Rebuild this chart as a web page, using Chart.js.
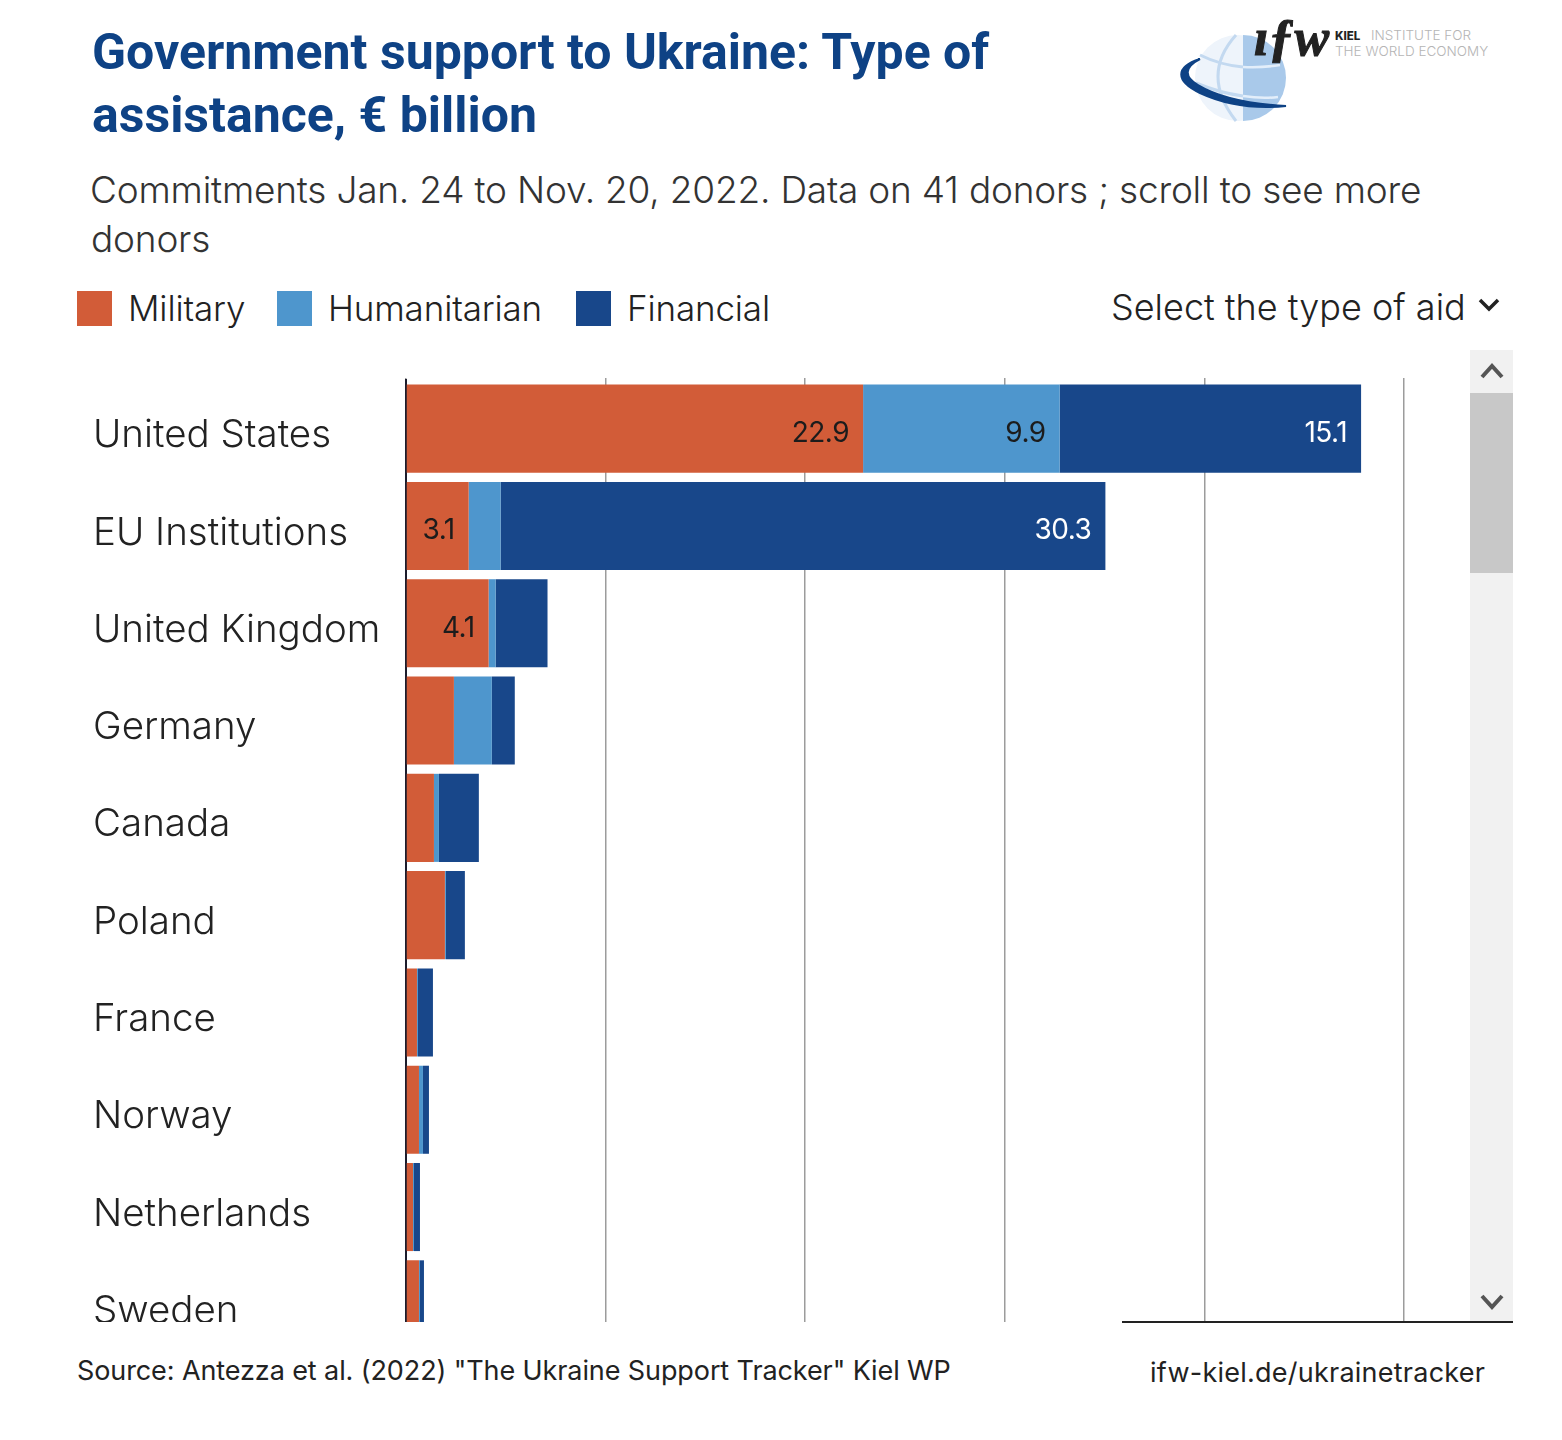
<!DOCTYPE html>
<html>
<head>
<meta charset="utf-8">
<script src="https://cdn.jsdelivr.net/npm/chart.js@4"></script>
<style>
    html, body { margin: 0; padding: 0; background: #fff; }
    #page { position: relative; width: 1562px; height: 1440px; overflow: hidden; font-family: Inter, sans-serif; color: #222; }
    .txt { position: absolute; white-space: nowrap; line-height: 1; }
    .title { font-family: Roboto, sans-serif; font-weight: 700; font-size: 50px; color: #0e4285; }
    .sub { font-weight: 300; font-size: 37px; letter-spacing: -0.2px; color: #333; }
    .legend-box { position: absolute; top: 291px; width: 35px; height: 35px; }
    .legend-label { top: 291px; font-weight: 300; font-size: 35px; letter-spacing: -0.15px; }
    #chart-scroll { position: absolute; left: 0; top: 378px; width: 1470px; height: 944px; overflow: hidden; }
    #scrollbar { position: absolute; left: 1470px; top: 350px; width: 43px; height: 972px; background: #f1f1f1; }
    #thumb { position: absolute; left: 0; top: 43px; width: 43px; height: 180px; background: #c8c8c8; }
    #baseline { position: absolute; left: 1122px; top: 1321px; width: 391px; height: 2px; background: #222; }
    svg { position: absolute; overflow: visible; }
</style>
</head>
<body>
<div id="page">
    <div class="txt title" style="left:92px;top:27px">Government support to Ukraine: Type of</div>
    <div class="txt title" style="left:92px;top:90px">assistance, € billion</div>
    <div class="txt sub" style="left:90px;top:171px">Commitments Jan. 24 to Nov. 20, 2022. Data on 41 donors ; scroll to see more</div>
    <div class="txt sub" style="left:91px;top:220px">donors</div>

    <div id="legend"></div>

    <div class="txt sub" style="left:1111px;top:289px;font-size:36px;letter-spacing:0;color:#222">Select the type of aid</div>
    <svg style="left:1478px;top:298px" width="22" height="14"><polyline points="2,2 11,11 20,2" fill="none" stroke="#222" stroke-width="3.5"/></svg>

    <!-- logo -->
    <svg style="left:1170px;top:5px" width="330" height="125">
        <circle cx="68" cy="73" r="43" fill="#eef4fb"/>
        <path d="M73 30 A43 43 0 0 1 73 116 L73 116 Z" fill="#a9c9ea"/>
        <path d="M30 50 Q50 60 73 62 M26 78 Q50 88 73 91 M66 30 Q30 70 66 116" fill="none" stroke="#c3d9f0" stroke-width="3"/>
        <path d="M73 62 Q92 63 110 60 M73 91 Q92 94 108 92" fill="none" stroke="#e3eefa" stroke-width="2.5"/>
        <path d="M30 54 C5 62 5 76 30 88 C58 101 85 104 116 101 C80 99 48 92 28 80 C14 72 14 62 30 54 Z" fill="#0e4285" stroke="#0e4285" stroke-width="2"/>
        <text x="84" y="50" font-family="Liberation Serif" font-style="italic" font-weight="700" font-size="52" fill="#222" stroke="#222" stroke-width="1">ıƒw</text>
        <text x="165" y="35" font-family="Inter" font-weight="800" font-size="11.5" fill="#222">KIEL</text>
        <text x="201" y="35" font-family="Inter" font-weight="300" font-size="13.5" fill="#b5b5b5">INSTITUTE FOR</text>
        <text x="165" y="51" font-family="Inter" font-weight="300" font-size="13.5" fill="#b5b5b5">THE WORLD ECONOMY</text>
    </svg>

    <div id="chart-scroll"><canvas id="myChart" width="1470" height="975"></canvas></div>

    <div id="scrollbar">
        <div id="thumb"></div>
        <svg style="left:10px;top:13px" width="24" height="16"><polyline points="2,14 12,3 22,14" fill="none" stroke="#555" stroke-width="4"/></svg>
        <svg style="left:10px;top:944px" width="24" height="16"><polyline points="2,2 12,13 22,2" fill="none" stroke="#555" stroke-width="4"/></svg>
    </div>
    <div id="baseline"></div>

    <div class="txt" style="left:77px;top:1357px;font-size:27px;font-weight:400;letter-spacing:-0.1px">Source: Antezza et al. (2022) "The Ukraine Support Tracker" Kiel WP</div>
    <div class="txt" style="left:1150px;top:1359px;font-size:27px;font-weight:400;letter-spacing:0.24px">ifw-kiel.de/ukrainetracker</div>
</div>

<script>
const donors = ['United States', 'EU Institutions', 'United Kingdom', 'Germany', 'Canada', 'Poland', 'France', 'Norway', 'Netherlands', 'Sweden']
const military = [22.9, 3.14, 4.14, 2.4, 1.4, 1.95, 0.55, 0.65, 0.35, 0.65]
const humanitarian = [9.85, 1.6, 0.35, 1.9, 0.25, 0.05, 0.05, 0.2, 0.05, 0.05]
const financial = [15.1, 30.3, 2.6, 1.15, 2.0, 0.95, 0.75, 0.3, 0.3, 0.2]
const x_ticks = [0, 10, 20, 30, 40, 50]

const series_names = ['Military', 'Humanitarian', 'Financial']
const series_colors = ['#d25c38', '#4e96cd', '#18478a']
const label_colors = ['#1c1c1c', '#1c1c1c', '#ffffff']
const LABEL_MIN = 3

// html legend, the chart area scrolls on its own so it can't hold it
const legend_x = [[77, 128], [277, 328], [576, 627]]
const legend = document.querySelector('#legend')
series_names.forEach((name, idx) => {
    let box = document.createElement('div')
    box.className = 'legend-box'
    box.style.left = legend_x[idx][0] + 'px'
    box.style.background = series_colors[idx]
    legend.appendChild(box)
    let label = document.createElement('div')
    label.className = 'txt legend-label'
    label.style.left = legend_x[idx][1] + 'px'
    label.textContent = name
    legend.appendChild(label)
})

const barLabels = {
    id: 'barLabels',
    afterDatasetsDraw(chart) {
        const ctx = chart.ctx
        ctx.save()
        ctx.font = '400 28px Inter'
        ctx.letterSpacing = '-0.5px'
        ctx.textAlign = 'right'
        ctx.textBaseline = 'middle'
        chart.data.datasets.forEach((dataset, d) => {
            chart.getDatasetMeta(d).data.forEach((bar, i) => {
                if (dataset.data[i] < LABEL_MIN) return
                ctx.fillStyle = label_colors[d]
                ctx.fillText((Math.round(dataset.data[i] * 10) / 10).toFixed(1), bar.x - 14, bar.y + 5)
            })
        })
        ctx.restore()
    }
}

new Chart(document.querySelector('#myChart'), {
    type: 'bar',
    plugins: [barLabels],
    data: {
        labels: donors,
        datasets: [military, humanitarian, financial].map((values, idx) => ({
            label: series_names[idx],
            data: values,
            backgroundColor: series_colors[idx],
            barPercentage: 0.905,
            categoryPercentage: 1
        }))
    },
    options: {
        indexAxis: 'y',
        responsive: false,
        animation: false,
        layout: { padding: { left: 93, right: 66, top: 0, bottom: 0 } },
        plugins: { legend: { display: false }, tooltip: { enabled: false } },
        scales: {
            x: {
                position: 'top',
                stacked: true,
                min: x_ticks[0],
                max: x_ticks[x_ticks.length - 1],
                afterBuildTicks: (scale) => { scale.ticks = x_ticks.map((value) => ({ value })) },
                afterFit: (scale) => { scale.height = 2 },
                border: { display: false },
                grid: { color: '#9c9c9c', lineWidth: 1.5, tickLength: 2 },
                ticks: { display: false }
            },
            y: {
                stacked: true,
                afterFit: (scale) => {
                    scale.width = 313
                    // big labels would otherwise push the plot down
                    scale.paddingTop = 0
                    scale.paddingBottom = 0
                },
                border: { display: true, color: '#1c1c2c', width: 2 },
                grid: { display: false },
                ticks: {
                    crossAlign: 'far',
                    color: '#222',
                    // empty first line + small lineHeight moves the label 7px below the bar center
                    callback: (value, idx) => ['', donors[idx]],
                    font: { family: 'Inter', size: 38.5, weight: 300, lineHeight: '14px' }
                }
            }
        }
    }
})
</script>
</body>
</html>
